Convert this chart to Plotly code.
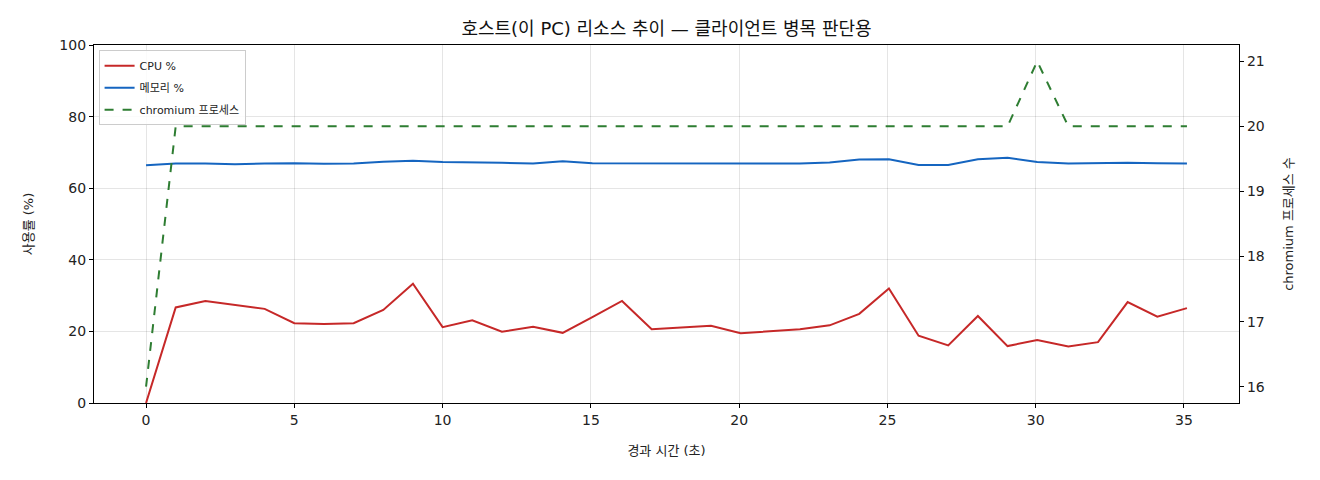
import plotly.graph_objects as go

elapsed_s = [0.0, 1.0, 2.0, 3.0, 4.0, 5.0, 6.0, 7.0, 8.0, 9.0, 10.0, 11.0, 12.0,
             13.05, 14.05, 15.05, 16.05, 17.05, 18.05, 19.05, 20.05, 21.05, 22.05,
             23.05, 24.05, 25.05, 26.05, 27.05, 28.05, 29.05, 30.05, 31.1, 32.1,
             33.1, 34.1, 35.1]
cpu_pct = [0.0, 26.7, 28.5, 27.4, 26.3, 22.3, 22.1, 22.3, 26.0, 33.3, 21.2, 23.1,
           19.9, 21.3, 19.6, 24.0, 28.5, 20.6, 21.1, 21.6, 19.5, 20.0, 20.6, 21.7,
           24.9, 32.0, 18.8, 16.1, 24.3, 15.9, 17.6, 15.8, 17.0, 28.2, 24.1, 26.5]
mem_pct = [66.4, 66.9, 66.9, 66.7, 66.9, 67.0, 66.8, 66.9, 67.4, 67.7, 67.3, 67.3,
           67.1, 66.9, 67.5, 67.0, 67.0, 67.0, 66.9, 67.0, 67.0, 66.9, 66.9, 67.2,
           68.0, 68.1, 66.5, 66.5, 68.1, 68.5, 67.3, 66.9, 67.1, 67.1, 67.0, 66.9]
chromium_procs = [16, 20, 20, 20, 20, 20, 20, 20, 20, 20, 20, 20, 20, 20, 20, 20,
                  20, 20, 20, 20, 20, 20, 20, 20, 20, 20, 20, 20, 20, 20, 21, 20,
                  20, 20, 20, 20]

FONT = "DejaVu Sans, Noto Sans CJK KR, sans-serif"

fig = go.Figure()
fig.add_trace(go.Scatter(x=elapsed_s, y=cpu_pct, mode="lines", name="CPU %",
                         legendgroup="a",
                         line=dict(color="#c62828", width=2)))
fig.add_trace(go.Scatter(x=elapsed_s, y=mem_pct, mode="lines", name="메모리 %",
                         legendgroup="b",
                         line=dict(color="#1565c0", width=2)))
fig.add_trace(go.Scatter(x=elapsed_s, y=chromium_procs, mode="lines",
                         name="chromium 프로세스", yaxis="y2", legendgroup="c",
                         line=dict(color="#2e7d32", width=2, dash="dash")))

axis_common = dict(showline=True, linecolor="black", linewidth=1.2,
                   ticks="outside", ticklen=4, tickcolor="black",
                   tickfont=dict(size=14, color="#222"), zeroline=False)

fig.update_layout(
    width=1320, height=480,
    margin=dict(l=94, r=81, t=45, b=77),
    paper_bgcolor="white", plot_bgcolor="white",
    font=dict(family=FONT, color="#222"),
    title=dict(text="호스트(이 PC) 리소스 추이 — 클라이언트 병목 판단용",
               x=0.5, xref="paper", xanchor="center", y=0.94, yref="container",
               yanchor="middle", font=dict(size=18, color="#111")),
    xaxis=dict(range=[-1.755, 36.855], tickvals=[0, 5, 10, 15, 20, 25, 30, 35],
               showgrid=True, gridcolor="rgba(0,0,0,0.1)", gridwidth=1,
               mirror=True,
               title=dict(text="경과 시간 (초)", font=dict(size=13), standoff=18),
               **axis_common),
    yaxis=dict(range=[0, 100], tickvals=[0, 20, 40, 60, 80, 100],
               showgrid=True, gridcolor="rgba(0,0,0,0.1)", gridwidth=1,
               mirror=True,
               title=dict(text="사용률 (%)", font=dict(size=13), standoff=22),
               **axis_common),
    yaxis2=dict(range=[15.75, 21.25], tickvals=[16, 17, 18, 19, 20, 21],
                overlaying="y", side="right", showgrid=False,
                title=dict(text="chromium 프로세스 수", font=dict(size=13), standoff=20),
                **axis_common),
    legend=dict(x=0.004, y=0.985, xanchor="left", yanchor="top",
                bgcolor="rgba(255,255,255,0.85)", bordercolor="#cccccc",
                borderwidth=1, font=dict(size=11, color="#222"),
                tracegroupgap=3, itemwidth=30),
    showlegend=True,
)

fig.write_html("out.html")
